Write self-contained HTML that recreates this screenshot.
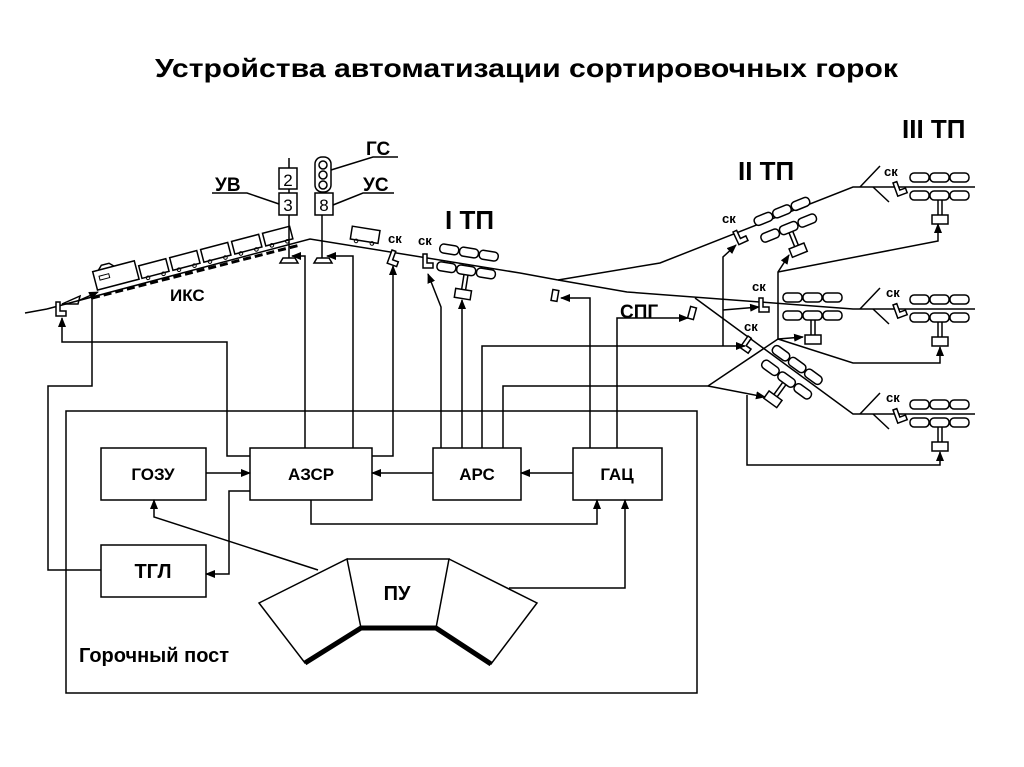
<!DOCTYPE html>
<html><head><meta charset="utf-8"><style>
html,body{margin:0;padding:0;background:#fff}
svg{display:block}
text{font-family:"Liberation Sans","DejaVu Sans",sans-serif;font-weight:bold;fill:#000}
</style></head><body>
<svg width="1024" height="767" viewBox="0 0 1024 767" xmlns="http://www.w3.org/2000/svg">
<defs>
<marker id="a" markerWidth="10" markerHeight="8" refX="9" refY="4" orient="auto" markerUnits="userSpaceOnUse">
<path d="M0,0 L10,4 L0,8 Z" fill="#000"/></marker>
<g id="ret" fill="#fff" stroke="#000" stroke-width="1.5">
<rect x="-30" y="-14" width="19" height="9" rx="4"/><rect x="-10" y="-14" width="19" height="9" rx="4"/><rect x="10" y="-14" width="19" height="9" rx="4"/>
<rect x="-30" y="4" width="19" height="9" rx="4"/><rect x="-10" y="4" width="19" height="9" rx="4"/><rect x="10" y="4" width="19" height="9" rx="4"/>
<line x1="-2" y1="13" x2="-2" y2="28"/><line x1="2" y1="13" x2="2" y2="28"/>
<rect x="-8" y="28" width="16" height="9"/>
</g>
<path id="sk" d="M0,0 h4 v9 h6 v5 h-10 z" fill="#fff" stroke="#000" stroke-width="1.5"/>
<g id="car"><rect x="0" y="-15" width="28" height="13" fill="#fff" stroke="#000" stroke-width="1.5"/><circle cx="6" cy="-1" r="1.8" fill="none" stroke="#000"/><circle cx="22" cy="-1" r="1.8" fill="none" stroke="#000"/></g>
</defs>

<text x="155" y="77" font-size="26" textLength="743" lengthAdjust="spacingAndGlyphs">Устройства автоматизации сортировочных горок</text>

<g stroke="#000" stroke-width="1.5" fill="none">
<polyline points="47,309 310,239 520,273 558,280"/>
<line x1="25" y1="313" x2="47" y2="309"/>
<polyline points="558,280 660,263 853,187 975,187"/>
<polyline points="558,280 627,292 853,309 975,309"/>
<polyline points="695,298 853,414 975,414"/>
<line x1="860" y1="187" x2="880" y2="166"/><line x1="873" y1="187" x2="889" y2="202"/>
<line x1="860" y1="309" x2="880" y2="288"/><line x1="873" y1="309" x2="889" y2="324"/>
<line x1="860" y1="414" x2="880" y2="393"/><line x1="873" y1="414" x2="889" y2="429"/>
<line x1="92" y1="298" x2="300" y2="245" stroke-width="3" stroke-dasharray="8,4"/>
</g>

<g transform="translate(98,292) rotate(-14.7)">
<rect x="0" y="-21" width="43" height="19" fill="#fff" stroke="#000" stroke-width="1.5"/>
<rect x="5" y="-15" width="10" height="4" fill="none" stroke="#000"/>
<path d="M6,-21 l4,-4 h8 l4,4" fill="none" stroke="#000" stroke-width="1.5"/>
<use href="#car" x="46"/><use href="#car" x="78"/><use href="#car" x="110"/><use href="#car" x="142"/><use href="#car" x="174"/>
</g>
<g stroke="#000" stroke-width="1.5" fill="none"><path d="M62,304 L80,296 L78,304 Z"/><line x1="80" y1="300" x2="98" y2="292" marker-end="url(#a)"/></g>
<g transform="translate(350,241) rotate(9)"><use href="#car"/></g>

<g stroke="#000" stroke-width="1.5" fill="#fff">
<line x1="289" y1="158" x2="289" y2="258"/>
<rect x="279" y="168" width="18" height="21"/><rect x="279" y="193" width="18" height="22"/>
<path d="M283,258 h12 l3,5 h-18 z"/>
<line x1="322" y1="192" x2="322" y2="258"/>
<rect x="315" y="157" width="16" height="35" rx="7"/>
<circle cx="323" cy="165" r="4"/><circle cx="323" cy="175" r="4"/><circle cx="323" cy="185" r="4"/>
<rect x="315" y="193" width="18" height="22"/>
<path d="M317,258 h12 l3,5 h-18 z"/>
<polyline points="331,170 373,157 398,157" fill="none"/>
<polyline points="212,193 247,193 279,204" fill="none"/>
<polyline points="333,205 363,193 394,193" fill="none"/>
</g>
<text x="288" y="186" font-size="17" style="font-weight:normal" text-anchor="middle">2</text>
<text x="288" y="211" font-size="17" style="font-weight:normal" text-anchor="middle">3</text>
<text x="324" y="211" font-size="17" style="font-weight:normal" text-anchor="middle">8</text>
<text x="366" y="155" font-size="19">ГС</text>
<text x="215" y="191" font-size="19">УВ</text>
<text x="363" y="191" font-size="19">УС</text>
<text x="170" y="301" font-size="17">ИКС</text>

<g transform="translate(468,262) rotate(9)"><use href="#ret"/></g>
<g transform="translate(786,220) rotate(-22)"><use href="#ret"/></g>
<g transform="translate(813,307)"><use href="#ret"/></g>
<g transform="translate(792,373) rotate(36)"><use href="#ret"/></g>
<g transform="translate(940,187)"><use href="#ret"/></g>
<g transform="translate(940,309)"><use href="#ret"/></g>
<g transform="translate(940,414)"><use href="#ret"/></g>

<use href="#sk" x="56" y="302"/>
<g transform="translate(392,250) rotate(20)"><use href="#sk"/></g>
<use href="#sk" x="423" y="254"/>
<g transform="translate(733,232) rotate(-25)"><use href="#sk"/></g>
<use href="#sk" x="759" y="298"/>
<g transform="translate(748,336) rotate(35)"><use href="#sk"/></g>
<g transform="translate(893,183) rotate(-20)"><use href="#sk"/></g>
<g transform="translate(893,305) rotate(-20)"><use href="#sk"/></g>
<g transform="translate(893,410) rotate(-20)"><use href="#sk"/></g>
<rect x="552" y="290" width="6" height="11" fill="#fff" stroke="#000" stroke-width="1.5" transform="rotate(10 555 295)"/>
<rect x="689" y="307" width="6" height="12" fill="#fff" stroke="#000" stroke-width="1.5" transform="rotate(15 692 313)"/>
<g font-size="13">
<text x="388" y="243">ск</text><text x="418" y="245">ск</text><text x="722" y="223">ск</text>
<text x="752" y="291">ск</text><text x="744" y="331">ск</text>
<text x="884" y="176">ск</text><text x="886" y="297">ск</text><text x="886" y="402">ск</text>
</g>
<text x="445" y="229" font-size="26">I ТП</text>
<text x="738" y="180" font-size="26">II ТП</text>
<text x="902" y="138" font-size="26">III ТП</text>
<text x="620" y="318" font-size="19">СПГ</text>

<g stroke="#000" stroke-width="1.5" fill="none">
<rect x="66" y="411" width="631" height="282"/>
<rect x="101" y="448" width="105" height="52"/>
<rect x="250" y="448" width="122" height="52"/>
<rect x="433" y="448" width="88" height="52"/>
<rect x="573" y="448" width="89" height="52"/>
<rect x="101" y="545" width="105" height="52"/>
<path d="M259,603 L347,559 L361,628 L305,663 Z M347,559 L449,559 L436,628 L361,628 M449,559 L537,603 L491,664 L436,628" fill="#fff"/>
<polyline points="305,663 361,628 436,628 491,664" stroke-width="5"/>
</g>
<text x="153" y="480" font-size="17" text-anchor="middle">ГОЗУ</text>
<text x="311" y="480" font-size="17" text-anchor="middle">АЗСР</text>
<text x="477" y="480" font-size="17" text-anchor="middle">АРС</text>
<text x="617" y="480" font-size="17" text-anchor="middle">ГАЦ</text>
<text x="153" y="578" font-size="20" text-anchor="middle">ТГЛ</text>
<text x="397" y="600" font-size="20" text-anchor="middle">ПУ</text>
<text x="79" y="662" font-size="20">Горочный пост</text>

<g stroke="#000" stroke-width="1.5" fill="none">
<line x1="206" y1="473" x2="250" y2="473" marker-end="url(#a)"/>
<line x1="433" y1="473" x2="372" y2="473" marker-end="url(#a)"/>
<line x1="573" y1="473" x2="521" y2="473" marker-end="url(#a)"/>
<polyline points="311,500 311,524 597,524 597,500" marker-end="url(#a)"/>
<polyline points="318,570 154,517 154,500" marker-end="url(#a)"/>
<polyline points="509,588 625,588 625,500" marker-end="url(#a)"/>
<polyline points="250,491 229,491 229,574 206,574" marker-end="url(#a)"/>
<polyline points="101,570 48,570 48,386 92,386 92,298"/>
<polyline points="250,456 227,456 227,342 62,342 62,318" marker-end="url(#a)"/>
<polyline points="305,448 305,256 292,256" marker-end="url(#a)"/>
<polyline points="353,448 353,256 327,256" marker-end="url(#a)"/>
<polyline points="372,456 393,456 393,266" marker-end="url(#a)"/>
<polyline points="441,448 441,307 428,274" marker-end="url(#a)"/>
<polyline points="462,448 462,300" marker-end="url(#a)"/>
<polyline points="482,448 482,346 745,346" marker-end="url(#a)"/>
<polyline points="503,448 503,386 708,386 778,339"/>
<polyline points="708,386 765,397" marker-end="url(#a)"/>
<polyline points="590,448 590,298 561,298" marker-end="url(#a)"/>
<polyline points="617,448 617,318 688,318" marker-end="url(#a)"/>
<polyline points="723,346 723,257 736,245" marker-end="url(#a)"/>
<polyline points="723,310 759,307" marker-end="url(#a)"/>
<polyline points="778,339 778,272 789,255" marker-end="url(#a)"/>
<polyline points="778,272 938,241 938,224" marker-end="url(#a)"/>
<polyline points="778,339 803,337" marker-end="url(#a)"/>
<polyline points="778,339 853,363 940,363 940,347" marker-end="url(#a)"/>
<polyline points="747,395 747,465 940,465 940,452" marker-end="url(#a)"/>
</g>
</svg>
</body></html>
